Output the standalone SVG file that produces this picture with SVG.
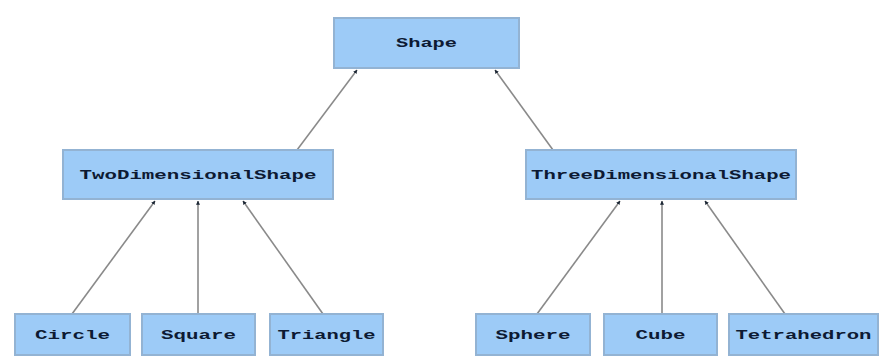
<svg xmlns="http://www.w3.org/2000/svg" width="881" height="357" viewBox="0 0 881 357">
<style>
.box{fill:#9dcbf7;stroke:#93b3d3;stroke-width:2}
.lbl{font-family:"Liberation Mono","DejaVu Sans Mono",monospace;font-weight:bold;font-size:13px;fill:#0d1a33;text-anchor:middle}
.edge{stroke:#8a8a8a;stroke-width:1.6;fill:none;marker-end:url(#ah)}
</style>
<defs>
<marker id="ah" viewBox="0 0 6 6" refX="5.5" refY="3" markerWidth="4" markerHeight="4" orient="auto" markerUnits="userSpaceOnUse">
<path d="M0,0 L6,3 L0,6 Z" fill="#1a2533"/>
</marker>
</defs>
<rect width="881" height="357" fill="#ffffff"/>
<g id="connectors">
<line class="edge" x1="297" y1="150" x2="357" y2="70"/>
<line class="edge" x1="553" y1="150" x2="495" y2="70"/>
<line class="edge" x1="72" y1="314" x2="155" y2="201"/>
<line class="edge" x1="198" y1="314" x2="198" y2="201"/>
<line class="edge" x1="323" y1="314" x2="243" y2="201"/>
<line class="edge" x1="537" y1="314" x2="620" y2="201"/>
<line class="edge" x1="662" y1="314" x2="662" y2="201"/>
<line class="edge" x1="785" y1="314" x2="705" y2="201"/>
</g>
<g id="shape"><rect class="box" x="334" y="18" width="185" height="50"/><text class="lbl" x="426.5" y="47" textLength="61" lengthAdjust="spacingAndGlyphs">Shape</text></g>
<g id="twodim"><rect class="box" x="63" y="150" width="270" height="49"/><text class="lbl" x="198" y="179" textLength="237" lengthAdjust="spacingAndGlyphs">TwoDimensionalShape</text></g>
<g id="threedim"><rect class="box" x="526" y="150" width="270" height="49"/><text class="lbl" x="661" y="179" textLength="260" lengthAdjust="spacingAndGlyphs">ThreeDimensionalShape</text></g>
<g id="circle"><rect class="box" x="15" y="314" width="115" height="41"/><text class="lbl" x="72.5" y="339" textLength="75" lengthAdjust="spacingAndGlyphs">Circle</text></g>
<g id="square"><rect class="box" x="142" y="314" width="113" height="41"/><text class="lbl" x="198.5" y="339" textLength="75" lengthAdjust="spacingAndGlyphs">Square</text></g>
<g id="triangle"><rect class="box" x="270" y="314" width="113" height="41"/><text class="lbl" x="326.5" y="339" textLength="98" lengthAdjust="spacingAndGlyphs">Triangle</text></g>
<g id="sphere"><rect class="box" x="476" y="314" width="114" height="41"/><text class="lbl" x="533" y="339" textLength="75" lengthAdjust="spacingAndGlyphs">Sphere</text></g>
<g id="cube"><rect class="box" x="604" y="314" width="113" height="41"/><text class="lbl" x="660.5" y="339" textLength="50" lengthAdjust="spacingAndGlyphs">Cube</text></g>
<g id="tetrahedron"><rect class="box" x="729" y="314" width="149" height="41"/><text class="lbl" x="803.5" y="339" textLength="136" lengthAdjust="spacingAndGlyphs">Tetrahedron</text></g>
</svg>
